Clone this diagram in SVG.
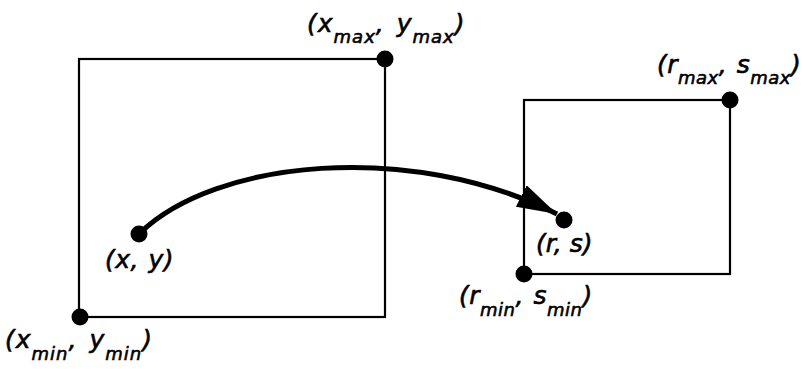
<svg xmlns="http://www.w3.org/2000/svg" width="803" height="369" viewBox="0 0 803 369">
<defs>
<style>
.box{fill:none;stroke:#000;stroke-width:2.2}
.dot{fill:#000}
.lbl{font-family:"DejaVu Sans","Liberation Sans",sans-serif;font-style:oblique;font-size:25px;fill:#000;stroke:#000;stroke-width:0.6}
.wide{letter-spacing:1px;word-spacing:3px}
.mid{letter-spacing:0.5px;word-spacing:1px}
.sub{font-size:18px}
</style>
<marker id="ah" viewBox="0 0 40 24" refX="40" refY="12" markerWidth="40" markerHeight="24" markerUnits="userSpaceOnUse" orient="auto">
<path d="M0,0 L40,12 L0,24 z" fill="#000"/>
</marker>
</defs>
<rect width="803" height="369" fill="#fff"/>
<g id="source">
<rect class="box" x="79" y="59" width="306" height="258" fill="#fbfbfb"/>
</g>
<g id="target">
<rect class="box" x="524" y="100" width="206" height="174"/>
</g>
<g id="connectors">
<path d="M140,233 C215,160 410,140 557,214" fill="none" stroke="#000" stroke-width="5" marker-end="url(#ah)"/>
</g>
<g id="p-xmax"><circle class="dot" cx="385" cy="59" r="8.5"/>
<text class="lbl wide" x="307" y="32">(x<tspan class="sub" dy="11">max</tspan><tspan dy="-11">, y</tspan><tspan class="sub" dy="11">max</tspan><tspan dy="-11">)</tspan></text></g>
<g id="p-xmin"><circle class="dot" cx="80" cy="317" r="8.5"/>
<text class="lbl wide" x="5" y="348">(x<tspan class="sub" dy="12">min</tspan><tspan dy="-12">, y</tspan><tspan class="sub" dy="12">min</tspan><tspan dy="-12">)</tspan></text></g>
<g id="p-xy"><circle class="dot" cx="139" cy="234" r="8.5"/>
<text class="lbl mid" x="105" y="268">(x, y)</text></g>
<g id="p-rmax"><circle class="dot" cx="730" cy="100" r="8.5"/>
<text class="lbl mid" x="657" y="73">(r<tspan class="sub" dy="11">max</tspan><tspan dy="-11">, s</tspan><tspan class="sub" dy="11">max</tspan><tspan dy="-11">)</tspan></text></g>
<g id="p-rmin"><circle class="dot" cx="524" cy="274" r="8.5"/>
<text class="lbl mid" x="459" y="304">(r<tspan class="sub" dy="12">min</tspan><tspan dy="-12">, s</tspan><tspan class="sub" dy="12">min</tspan><tspan dy="-12">)</tspan></text></g>
<g id="p-rs"><circle class="dot" cx="564" cy="220" r="8.5"/>
<text class="lbl" x="536" y="252">(r, s)</text></g>
</svg>
